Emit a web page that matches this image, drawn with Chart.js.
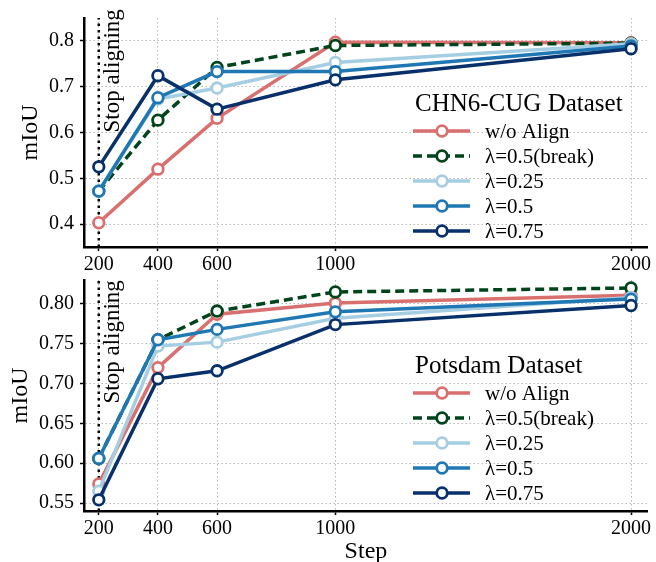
<!DOCTYPE html>
<html>
<head>
<meta charset="utf-8">
<script src="https://cdn.jsdelivr.net/npm/chart.js@4"></script>
<style>
html, body { margin: 0; padding: 0; background: #fff; overflow: hidden; }
#wrap { position: relative; width: 656px; height: 562px; }
#top { position: absolute; left: 0; top: 0; }
#bottom { position: absolute; left: 0; top: 262px; }
</style>
</head>
<body>
<div id="wrap">
  <canvas id="top" width="656" height="280"></canvas>
  <canvas id="bottom" width="656" height="304"></canvas>
</div>
<script>
// x positions (training step)
var steps = [200, 400, 600, 1000, 2000];
var seriesNames = ['w/o Align', 'λ=0.5(break)', 'λ=0.25', 'λ=0.5', 'λ=0.75'];
var seriesColors = ['#d9706f', '#00441b', '#a6cee3', '#1f78b4', '#08306b'];

// CHN6-CUG mIoU
var chnNoAlign = [0.403, 0.520, 0.631, 0.797, 0.796];
var chnBreak   = [0.472, 0.627, 0.742, 0.790, 0.795];
var chnL025    = [0.472, 0.673, 0.697, 0.753, 0.794];
var chnL05     = [0.472, 0.676, 0.733, 0.733, 0.789];
var chnL075    = [0.525, 0.724, 0.651, 0.715, 0.783];

// Potsdam mIoU
var potNoAlign = [0.574, 0.720, 0.787, 0.801, 0.811];
var potBreak   = [0.606, 0.755, 0.791, 0.815, 0.820];
var potL025    = [0.565, 0.747, 0.752, 0.782, 0.808];
var potL05     = [0.606, 0.755, 0.768, 0.790, 0.806];
var potL075    = [0.554, 0.706, 0.716, 0.774, 0.798];

var chnTicks = [0.4, 0.5, 0.6, 0.7, 0.8];
var potTicks = [0.55, 0.60, 0.65, 0.70, 0.75, 0.80];

var stopStep = 200;

Chart.defaults.font.family = "'Liberation Serif', 'Times New Roman', serif";
Chart.defaults.color = '#000';

function makeDatasets(rows) {
    return rows.map((vals, i) => ({
        label: seriesNames[i],
        data: vals.map((v, j) => ({ x: steps[j], y: v })),
        borderColor: seriesColors[i],
        borderWidth: 3.5,
        borderDash: i === 1 ? [9, 5] : [],
        pointRadius: 5.3,
        pointHoverRadius: 5.3,
        pointBorderWidth: 2.8,
        pointBackgroundColor: '#fff',
        pointBorderColor: seriesColors[i],
        tension: 0,
        order: rows.length - 1 - i, // later series on top
    }));
}

// dotted "Stop aligning" marker line, drawn behind the data
var stopLine = {
    id: 'stopLine',
    beforeDatasetsDraw(chart, args, opts) {
        var ctx = chart.ctx;
        var area = chart.chartArea;
        var x = chart.scales.x.getPixelForValue(stopStep);
        ctx.save();
        ctx.strokeStyle = '#000';
        ctx.lineWidth = 2.5;
        ctx.setLineDash([2.5, 4]);
        ctx.beginPath();
        ctx.moveTo(x, area.bottom);
        ctx.lineTo(x, area.top);
        ctx.stroke();
        ctx.setLineDash([]);
        ctx.translate(x + 20, chart.scales.y.getPixelForValue(opts.labelY));
        ctx.rotate(-Math.PI / 2);
        ctx.font = "23px 'Liberation Serif', serif";
        ctx.fillStyle = '#000';
        ctx.textAlign = 'left';
        ctx.textBaseline = 'alphabetic';
        ctx.fillText('Stop aligning', 0, 0);
        ctx.restore();
    }
};

// legend with title, drawn inside the plot
var boxLegend = {
    id: 'boxLegend',
    afterDatasetsDraw(chart, args, opts) {
        var ctx = chart.ctx;
        var top = chart.chartArea.top;
        ctx.save();
        ctx.fillStyle = '#000';
        ctx.textBaseline = 'middle';
        ctx.textAlign = 'left';
        ctx.font = "25px 'Liberation Serif', serif";
        ctx.fillText(opts.title, 415, top + 86);
        ctx.font = "21px 'Liberation Serif', serif";
        chart.data.datasets.forEach((ds, i) => {
            var y = top + 113 + i * 25;
            ctx.strokeStyle = ds.borderColor;
            ctx.lineWidth = ds.borderWidth;
            ctx.setLineDash(ds.borderDash);
            ctx.beginPath();
            ctx.moveTo(413, y);
            ctx.lineTo(470, y);
            ctx.stroke();
            ctx.setLineDash([]);
            ctx.beginPath();
            ctx.arc(442, y, ds.pointRadius, 0, Math.PI * 2);
            ctx.fillStyle = '#fff';
            ctx.fill();
            ctx.lineWidth = ds.pointBorderWidth;
            ctx.stroke();
            ctx.fillStyle = '#000';
            ctx.fillText(ds.label, 485, y + 1);
        });
        ctx.restore();
    }
};

function makeChart(id, rows, yMin, yMax, yTicks, decimals, opts) {
    var ctx = document.getElementById(id).getContext('2d');
    return new Chart(ctx, {
        type: 'line',
        data: { datasets: makeDatasets(rows) },
        plugins: [stopLine, boxLegend],
        options: {
            responsive: false,
            animation: false,
            events: [],
            layout: { padding: { top: opts.padTop, right: 6, left: 0, bottom: 0 } },
            plugins: {
                legend: { display: false },
                tooltip: { enabled: false },
                stopLine: { labelY: opts.labelY },
                boxLegend: { title: opts.title },
            },
            scales: {
                x: {
                    type: 'linear',
                    min: 150,
                    max: 2057,
                    afterBuildTicks: (scale) => { scale.ticks = steps.map(v => ({ value: v })); },
                    afterFit: (scale) => { scale.height = opts.xHeight; },
                    ticks: {
                        font: { size: 20 },
                        padding: 2,
                        maxRotation: 0,
                        callback: (v) => String(v),
                    },
                    grid: {
                        color: '#b8b8b8',
                        lineWidth: 1,
                        tickColor: '#000',
                        tickWidth: 1.5,
                        tickLength: 4,
                    },
                    border: { display: true, color: '#000', width: 2.5, dash: [1.5, 2.5] },
                    title: {
                        display: opts.showStep,
                        text: 'Step',
                        font: { size: 24 },
                        padding: 0,
                    },
                },
                y: {
                    type: 'linear',
                    min: yMin,
                    max: yMax,
                    afterBuildTicks: (scale) => { scale.ticks = yTicks.map(v => ({ value: v })); },
                    afterFit: (scale) => { scale.width = 84; },
                    ticks: {
                        font: { size: 20 },
                        padding: 6,
                        callback: (v) => v.toFixed(decimals),
                    },
                    grid: {
                        color: '#b8b8b8',
                        lineWidth: 1,
                        tickColor: '#000',
                        tickWidth: 1.5,
                        tickLength: 4,
                    },
                    border: { display: true, color: '#000', width: 2.5, dash: [1.5, 2.5] },
                    title: {
                        display: true,
                        text: 'mIoU',
                        font: { size: 24 },
                        padding: { top: opts.yTitlePad, bottom: 0 },
                    },
                },
            },
        },
    });
}

makeChart('top', [chnNoAlign, chnBreak, chnL025, chnL05, chnL075], 0.35, 0.85, chnTicks, 1,
    { padTop: 15, xHeight: 33, showStep: false, labelY: 0.6, title: 'CHN6-CUG Dataset', yTitlePad: 16 });

makeChart('bottom', [potNoAlign, potBreak, potL025, potL05, potL075], 0.54, 0.83, potTicks, 2,
    { padTop: 17, xHeight: 55, showStep: true, labelY: 0.675, title: 'Potsdam Dataset', yTitlePad: 6 });
</script>
</body>
</html>
